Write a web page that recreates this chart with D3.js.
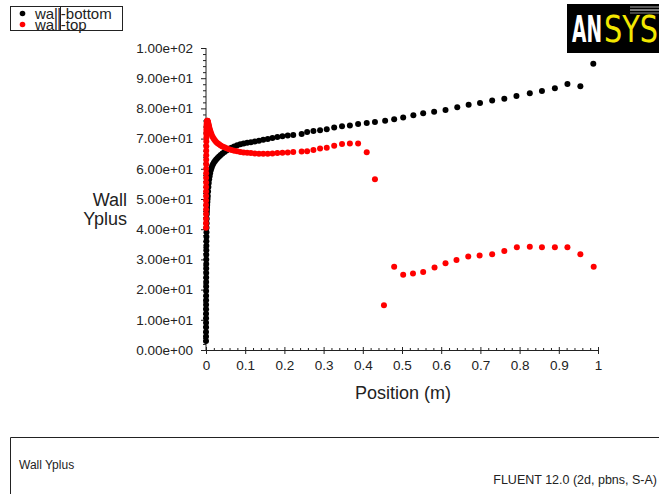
<!DOCTYPE html>
<html>
<head>
<meta charset="utf-8">
<script src="https://cdn.jsdelivr.net/npm/d3@7"></script>
<style>
  html, body { margin: 0; padding: 0; background: #fff; }
  svg { display: block; font-family: "Liberation Sans", Arial, sans-serif; }
</style>
</head>
<body>
<svg id="chart" width="659" height="494"></svg>
<script>
// wall-bottom series (black)
const bottomX = [0.0000, 0.0000, 0.0000, 0.0001, 0.0001, 0.0001, 0.0001, 0.0002, 0.0002, 0.0002,
  0.0003, 0.0003, 0.0003, 0.0004, 0.0004, 0.0005, 0.0005, 0.0006, 0.0006, 0.0007,
  0.0008, 0.0009, 0.0010, 0.0011, 0.0012, 0.0014, 0.0016, 0.0018, 0.0020, 0.0023,
  0.0026, 0.0030, 0.0035, 0.0040, 0.0046, 0.0053, 0.0061, 0.0070, 0.0080, 0.0092,
  0.0105, 0.0120, 0.0137, 0.0156, 0.0178, 0.0202, 0.0230, 0.0260, 0.0295, 0.0333,
  0.0375, 0.0420, 0.0470, 0.0525, 0.0585, 0.0650, 0.0720, 0.0795, 0.0875, 0.0960,
  0.1050, 0.1145, 0.1245, 0.1350, 0.1460, 0.1575, 0.1695, 0.1820, 0.1950, 0.2085,
  0.2225, 0.244, 0.258, 0.274, 0.291, 0.308, 0.327, 0.347, 0.367, 0.388,
  0.410, 0.431, 0.457, 0.480, 0.503, 0.529, 0.554, 0.582, 0.611, 0.641,
  0.670, 0.699, 0.730, 0.761, 0.792, 0.826, 0.857, 0.890, 0.922, 0.955, 0.988];
const bottomY = [3.0, 4.5, 6.0, 7.5, 9.0, 10.5, 12.0, 13.5, 15.0, 16.5,
  18.0, 19.5, 21.0, 22.5, 24.0, 25.5, 27.0, 28.5, 30.0, 31.5,
  33.0, 34.5, 36.0, 37.5, 39.0, 40.5, 42.0, 43.5, 45.0, 46.0,
  47.0, 48.0, 49.0, 50.0, 51.0, 52.5, 54.0, 55.3, 56.5, 57.5,
  58.5, 59.4, 60.2, 60.9, 61.5, 62.1, 62.6, 63.1, 63.6, 64.1,
  64.6, 65.1, 65.6, 66.1, 66.6, 67.0, 67.4, 67.8, 68.1, 68.4,
  68.6, 68.8, 69.0, 69.3, 69.6, 69.9, 70.2, 70.5, 70.8, 71.0,
  71.2, 71.5, 72.2, 72.5, 72.8, 73.1, 73.7, 74.1, 74.3, 74.8,
  75.2, 75.5, 75.9, 76.4, 77.0, 77.7, 78.4, 78.9, 79.5, 80.4,
  81.2, 81.8, 82.6, 83.2, 84.1, 85.0, 85.8, 86.7, 88.1, 87.3, 94.8];

// wall-top series (red)
const topX = [0.0000, 0.0000, 0.0001, 0.0001, 0.0001, 0.0001, 0.0002, 0.0002, 0.0002, 0.0003,
  0.0003, 0.0003, 0.0004, 0.0004, 0.0005, 0.0005, 0.0006, 0.0006, 0.0007, 0.0008,
  0.0009, 0.0010, 0.0011, 0.0012, 0.0014, 0.0016, 0.0018, 0.0020, 0.0023, 0.0026,
  0.0030, 0.0035, 0.0040, 0.0046, 0.0053, 0.0061, 0.0070, 0.0080, 0.0092, 0.0105,
  0.0120, 0.0137, 0.0156, 0.0178, 0.0202, 0.0230, 0.0260, 0.0295, 0.0333, 0.0375,
  0.0420, 0.0470, 0.0525, 0.0585, 0.0650, 0.0720, 0.0795, 0.0875, 0.0960, 0.1050,
  0.1145, 0.1245, 0.1350, 0.1460, 0.1575, 0.1695, 0.1820, 0.1950, 0.2085, 0.2225,
  0.244, 0.258, 0.274, 0.291, 0.308, 0.327, 0.347, 0.367, 0.388, 0.410,
  0.431, 0.454, 0.480, 0.503, 0.528, 0.554, 0.583, 0.611, 0.639, 0.669,
  0.698, 0.730, 0.761, 0.793, 0.826, 0.857, 0.890, 0.922, 0.955, 0.989];
const topY = [40.5, 42.0, 43.5, 45.0, 46.5, 48.0, 49.5, 51.0, 52.5, 54.0,
  55.5, 57.0, 58.5, 60.0, 61.5, 63.0, 64.5, 66.0, 67.5, 69.0,
  70.3, 71.4, 72.3, 73.1, 73.8, 74.4, 74.9, 75.3, 75.6, 75.8,
  75.9, 75.9, 75.8, 75.6, 75.3, 74.9, 74.4, 73.9, 73.3, 72.7,
  72.1, 71.5, 70.9, 70.4, 69.9, 69.4, 68.9, 68.5, 68.1, 67.7,
  67.4, 67.1, 66.8, 66.5, 66.2, 66.0, 65.8, 65.6, 65.4, 65.3,
  65.2, 65.1, 65.0, 65.0, 65.0, 65.1, 65.2, 65.3, 65.4, 65.6,
  65.7, 65.8, 66.2, 66.7, 67.0, 67.6, 68.2, 68.4, 68.4, 65.5,
  56.5, 14.8, 27.6, 24.9, 25.3, 25.8, 27.3, 28.7, 29.8, 31.0,
  31.3, 31.7, 32.8, 34.0, 34.2, 34.0, 34.0, 34.0, 31.7, 27.6];

const yTicks = [0, 10, 20, 30, 40, 50, 60, 70, 80, 90, 100];
const yTickLabels = ["0.00e+00", "1.00e+01", "2.00e+01", "3.00e+01", "4.00e+01", "5.00e+01",
  "6.00e+01", "7.00e+01", "8.00e+01", "9.00e+01", "1.00e+02"];
const xTicks = [0, 0.1, 0.2, 0.3, 0.4, 0.5, 0.6, 0.7, 0.8, 0.9, 1];
const xTickLabels = ["0", "0.1", "0.2", "0.3", "0.4", "0.5", "0.6", "0.7", "0.8", "0.9", "1"];

const seriesNames = ["wall-bottom", "wall-top"];
const seriesColors = ["#000000", "#ff0000"];

const svg = d3.select("#chart");
const x = d3.scaleLinear().domain([0, 1]).range([206, 598]);
const y = d3.scaleLinear().domain([0, 100]).range([350, 48]);

// axes
const yMinor = d3.range(0, 100.01, 2).filter(v => v % 10 !== 0);
const xMinor = d3.range(0, 1.001, 0.02).filter(v => Math.abs(v * 10 - Math.round(v * 10)) > 1e-6);

const yAxisG = svg.append("g").attr("transform", "translate(206,0)")
  .call(d3.axisLeft(y).tickValues(yTicks).tickSize(5).tickPadding(8)
    .tickFormat((d, i) => yTickLabels[i]));
svg.append("g").attr("transform", "translate(206,0)")
  .call(d3.axisLeft(y).tickValues(yMinor).tickSize(3).tickFormat(""))
  .select(".domain").remove();

const xAxisG = svg.append("g").attr("transform", "translate(0,350)")
  .call(d3.axisBottom(x).tickValues(xTicks).tickSize(4).tickPadding(6)
    .tickFormat((d, i) => xTickLabels[i]));
svg.append("g").attr("transform", "translate(0,350)")
  .call(d3.axisTop(x).tickValues(xMinor).tickSize(2).tickFormat(""))
  .select(".domain").remove();
svg.append("g").attr("transform", "translate(0,350)")
  .call(d3.axisTop(x).tickValues(xTicks).tickSize(3).tickFormat(""))
  .select(".domain").remove();

svg.selectAll(".domain").attr("stroke", "#222");
svg.selectAll(".tick line").attr("stroke", "#222");
yAxisG.selectAll("text").attr("font-size", 13.5).attr("fill", "#222")
  .attr("font-family", "Liberation Sans, Arial, sans-serif");
xAxisG.selectAll("text").attr("font-size", 13.5).attr("fill", "#222")
  .attr("font-family", "Liberation Sans, Arial, sans-serif");
yAxisG.select(".domain").attr("d", "M0,48V350");

// axis titles
svg.append("text").attr("x", 403).attr("y", 399).attr("text-anchor", "middle")
  .attr("font-size", 18).attr("fill", "#222").text("Position (m)");
svg.append("text").attr("x", 127).attr("y", 206).attr("text-anchor", "end")
  .attr("font-size", 18).attr("fill", "#222").text("Wall");
svg.append("text").attr("x", 127).attr("y", 225).attr("text-anchor", "end")
  .attr("font-size", 18).attr("fill", "#222").text("Yplus");

// points
const series = [
  d3.zip(bottomX, bottomY),
  d3.zip(topX, topY)
];
series.forEach((pts, i) => {
  svg.append("g").selectAll("circle").data(pts).enter().append("circle")
    .attr("cx", d => x(d[0]))
    .attr("cy", d => y(d[1]))
    .attr("r", 3)
    .attr("fill", seriesColors[i]);
});

// legend
const legend = svg.append("g");
legend.append("rect").attr("x", 10.5).attr("y", 6.5).attr("width", 112).attr("height", 24)
  .attr("fill", "none").attr("stroke", "#222").attr("stroke-width", 1);
legend.append("line").attr("x1", 60.5).attr("x2", 60.5).attr("y1", 6.5).attr("y2", 30.5)
  .attr("stroke", "#222");
seriesNames.forEach((name, i) => {
  legend.append("circle").attr("cx", 22.5).attr("cy", 13.5 + i * 11).attr("r", 2.8)
    .attr("fill", seriesColors[i]);
  legend.append("text").attr("x", 35).attr("y", 19 + i * 11).attr("font-size", 15)
    .attr("fill", "#222").text(name);
});

// logo
const logo = svg.append("g");
logo.append("rect").attr("x", 567).attr("y", 4).attr("width", 92).attr("height", 49).attr("fill", "#000");
[[6, "#555"], [9, "#777"], [12, "#444"]].forEach(([yy, c]) => {
  logo.append("rect").attr("x", 630).attr("y", yy).attr("width", 29).attr("height", 2).attr("fill", c);
});
logo.append("text").attr("x", 572).attr("y", 42).attr("font-size", 37).attr("font-weight", "bold")
  .attr("font-family", "Liberation Sans Narrow, DejaVu Sans Condensed, sans-serif")
  .attr("textLength", 30).attr("lengthAdjust", "spacingAndGlyphs")
  .attr("fill", "#fff").text("AN");
logo.append("text").attr("x", 604).attr("y", 42).attr("font-size", 37)
  .attr("font-family", "Liberation Sans Narrow, DejaVu Sans Condensed, sans-serif")
  .attr("textLength", 54).attr("lengthAdjust", "spacingAndGlyphs")
  .attr("fill", "#f2e600").text("SYS");

// bottom info panel
svg.append("path").attr("d", "M10.5,494V437.5H659").attr("fill", "none").attr("stroke", "#222");
svg.append("text").attr("x", 19).attr("y", 469).attr("font-size", 12).attr("fill", "#222").text("Wall Yplus");
svg.append("text").attr("x", 657).attr("y", 484).attr("text-anchor", "end").attr("font-size", 12.5)
  .attr("fill", "#222").text("FLUENT 12.0 (2d, pbns, S-A)");
</script>
</body>
</html>
